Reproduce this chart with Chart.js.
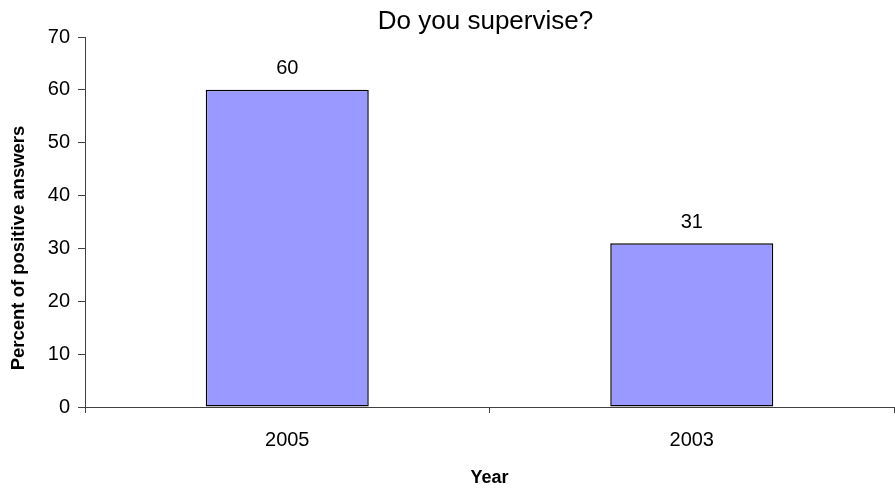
<!DOCTYPE html>
<html>
<head>
<meta charset="utf-8">
<script src="https://cdn.jsdelivr.net/npm/chart.js@4.4.1/dist/chart.umd.min.js"></script>
<style>
  html, body { margin: 0; padding: 0; background: #ffffff; }
  #wrap { width: 895px; height: 490px; }
</style>
</head>
<body>
<div id="wrap"><canvas id="chart" width="895" height="490"></canvas></div>
<script>
// Survey answers: share of respondents who supervise, by survey year
const categories = ['2005', '2003'];
const positivePercent = [60, 31];
const yTickValues = [0, 10, 20, 30, 40, 50, 60, 70];
const chartTitle = 'Do you supervise?';
const xAxisTitle = 'Year';
const yAxisTitle = 'Percent of positive answers';

const FONT = "'Liberation Sans', Arial, sans-serif";

// Writes each bar's value just above its top edge
const valueLabels = {
  id: 'valueLabels',
  afterDatasetsDraw(chart) {
    const ctx = chart.ctx;
    ctx.save();
    ctx.font = '20px ' + FONT;
    ctx.fillStyle = '#000000';
    ctx.textAlign = 'center';
    ctx.textBaseline = 'middle';
    chart.data.datasets.forEach((ds, di) => {
      chart.getDatasetMeta(di).data.forEach((bar, i) => {
        ctx.fillText(String(ds.data[i]), bar.x, bar.y - 21);
      });
    });
    ctx.restore();
  }
};

// Chart heading and the rotated value-axis caption, placed relative to the plot
const headings = {
  id: 'headings',
  afterDraw(chart) {
    const ctx = chart.ctx;
    const area = chart.chartArea;
    ctx.save();
    ctx.fillStyle = '#000000';
    ctx.textAlign = 'center';
    ctx.textBaseline = 'middle';

    ctx.font = '26px ' + FONT;
    ctx.fillText(chartTitle, (area.left + area.right) / 2 - 4, area.top - 15);

    ctx.font = 'bold 18.5px ' + FONT;
    ctx.translate(19, area.bottom - 159);
    ctx.rotate(-Math.PI / 2);
    ctx.fillText(yAxisTitle, 0, 0);
    ctx.restore();
  }
};

new Chart(document.getElementById('chart'), {
  type: 'bar',
  data: {
    labels: categories,
    datasets: [{
      data: positivePercent,
      backgroundColor: '#9999FF',
      borderColor: '#000000',
      borderWidth: 1.5,
      borderSkipped: false,
      barPercentage: 0.403,
      categoryPercentage: 1.0
    }]
  },
  options: {
    responsive: false,
    devicePixelRatio: 1,
    animation: false,
    layout: { padding: { left: 0, right: 1, top: 37, bottom: 0 } },
    plugins: {
      legend: { display: false },
      tooltip: { enabled: false },
      title: { display: false }
    },
    scales: {
      x: {
        type: 'category',
        offset: true,
        grid: {
          display: true,
          offset: true,
          drawOnChartArea: false,
          tickLength: 6,
          tickColor: '#404040'
        },
        border: { display: true, color: '#404040', width: 1 },
        ticks: {
          color: '#000000',
          font: { family: FONT, size: 20 },
          padding: 15
        },
        title: {
          display: true,
          text: xAxisTitle,
          color: '#000000',
          font: { family: FONT, size: 18, weight: 'bold' },
          padding: { top: 0, bottom: 1 }
        },
        afterFit(scale) { scale.height = 83; }
      },
      y: {
        min: 0,
        max: 70,
        afterBuildTicks(scale) {
          scale.ticks = yTickValues.map(v => ({ value: v }));
        },
        grid: {
          display: true,
          drawOnChartArea: false,
          tickLength: 7,
          tickColor: '#404040'
        },
        border: { display: true, color: '#404040', width: 1 },
        ticks: {
          color: '#000000',
          font: { family: FONT, size: 20 },
          padding: 8
        },
        afterFit(scale) { scale.width = 85; }
      }
    }
  },
  plugins: [valueLabels, headings]
});
</script>
</body>
</html>
